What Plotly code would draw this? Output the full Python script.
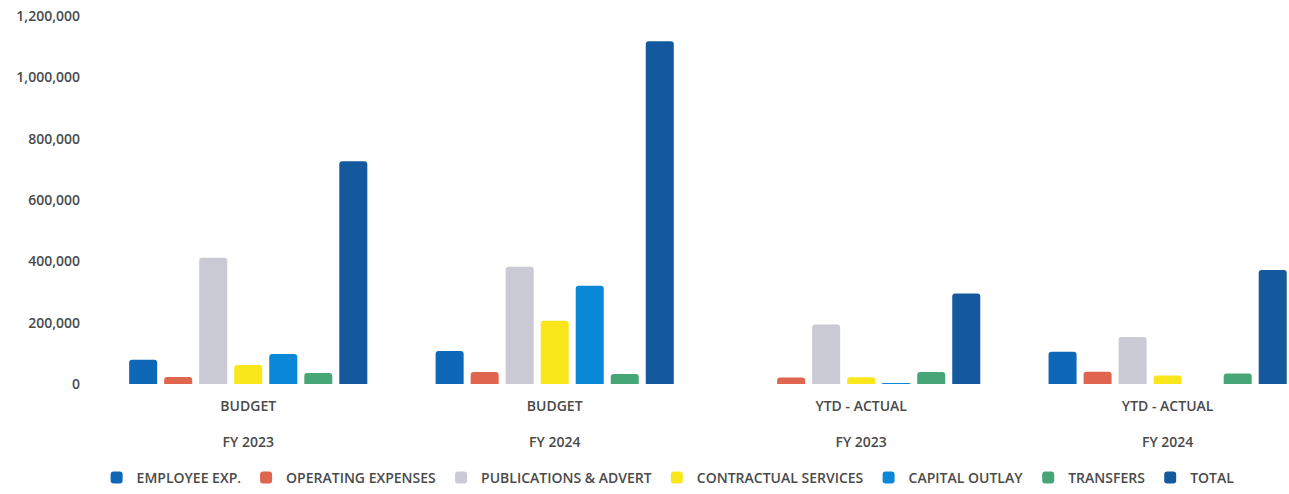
import plotly.graph_objects as go

# Groups along the x axis
periods = ["BUDGET", "BUDGET", "YTD - ACTUAL", "YTD - ACTUAL"]
fiscal_years = ["FY 2023", "FY 2024", "FY 2023", "FY 2024"]

# Expense categories (one bar series each) and their colours
series_names = [
    "EMPLOYEE EXP.",
    "OPERATING EXPENSES",
    "PUBLICATIONS & ADVERT",
    "CONTRACTUAL SERVICES",
    "CAPITAL OUTLAY",
    "TRANSFERS",
    "TOTAL",
]
series_colors = ["#0F67B8", "#E0654F", "#CACAD4", "#F9E71C", "#0A87D6", "#47A676", "#14599E"]

# Values per group: BUDGET FY23, BUDGET FY24, YTD FY23, YTD FY24
employee_exp = [79000, 108000, 0, 105000]
operating_expenses = [23000, 39000, 21000, 40000]
publications_advert = [412000, 382000, 194000, 153000]
contractual_services = [62000, 206000, 22000, 28000]
capital_outlay = [98000, 320000, 3000, 0]
transfers = [36000, 33000, 39000, 34000]
total = [726000, 1118000, 295000, 372000]

series_values = [
    employee_exp,
    operating_expenses,
    publications_advert,
    contractual_services,
    capital_outlay,
    transfers,
    total,
]

y_ticks = [0, 200000, 400000, 600000, 800000, 1000000, 1200000]

text_color = "#4a4a4a"
font_family = "Open Sans"

x_pos = list(range(len(periods)))
tick_text = [f"{p}<br><br>{fy}" for p, fy in zip(periods, fiscal_years)]

fig = go.Figure()
for name, color, vals in zip(series_names, series_colors, series_values):
    fig.add_trace(
        go.Bar(
            x=x_pos,
            y=vals,
            name=name,
            marker=dict(color=color, line=dict(width=0)),
        )
    )

fig.update_layout(
    width=1289,
    height=494,
    margin=dict(l=95, r=0, t=16, b=109),
    paper_bgcolor="white",
    plot_bgcolor="white",
    barmode="group",
    bargap=0.2,
    bargroupgap=0.2,
    barcornerradius=3,
    font=dict(family=font_family, size=14, color=text_color, weight=600),
    showlegend=True,
    legend=dict(
        orientation="h",
        x=0.48,
        xanchor="center",
        y=-0.255,
        yanchor="middle",
        font=dict(size=14, color=text_color, weight=600),
        itemwidth=30,
        traceorder="normal",
    ),
    xaxis=dict(
        tickmode="array",
        tickvals=x_pos,
        ticktext=tick_text,
        range=[-0.5, 3.396],
        showgrid=False,
        zeroline=False,
        showline=False,
        ticks="",
        ticklabelstandoff=12,
        tickfont=dict(size=14, color=text_color, weight=600),
    ),
    yaxis=dict(
        range=[0, 1200000],
        tickvals=y_ticks,
        tickformat=",d",
        showgrid=False,
        zeroline=False,
        showline=False,
        ticklabelstandoff=14,
        tickfont=dict(size=14, color=text_color, weight=600),
    ),
)

fig.write_html("out.html")
